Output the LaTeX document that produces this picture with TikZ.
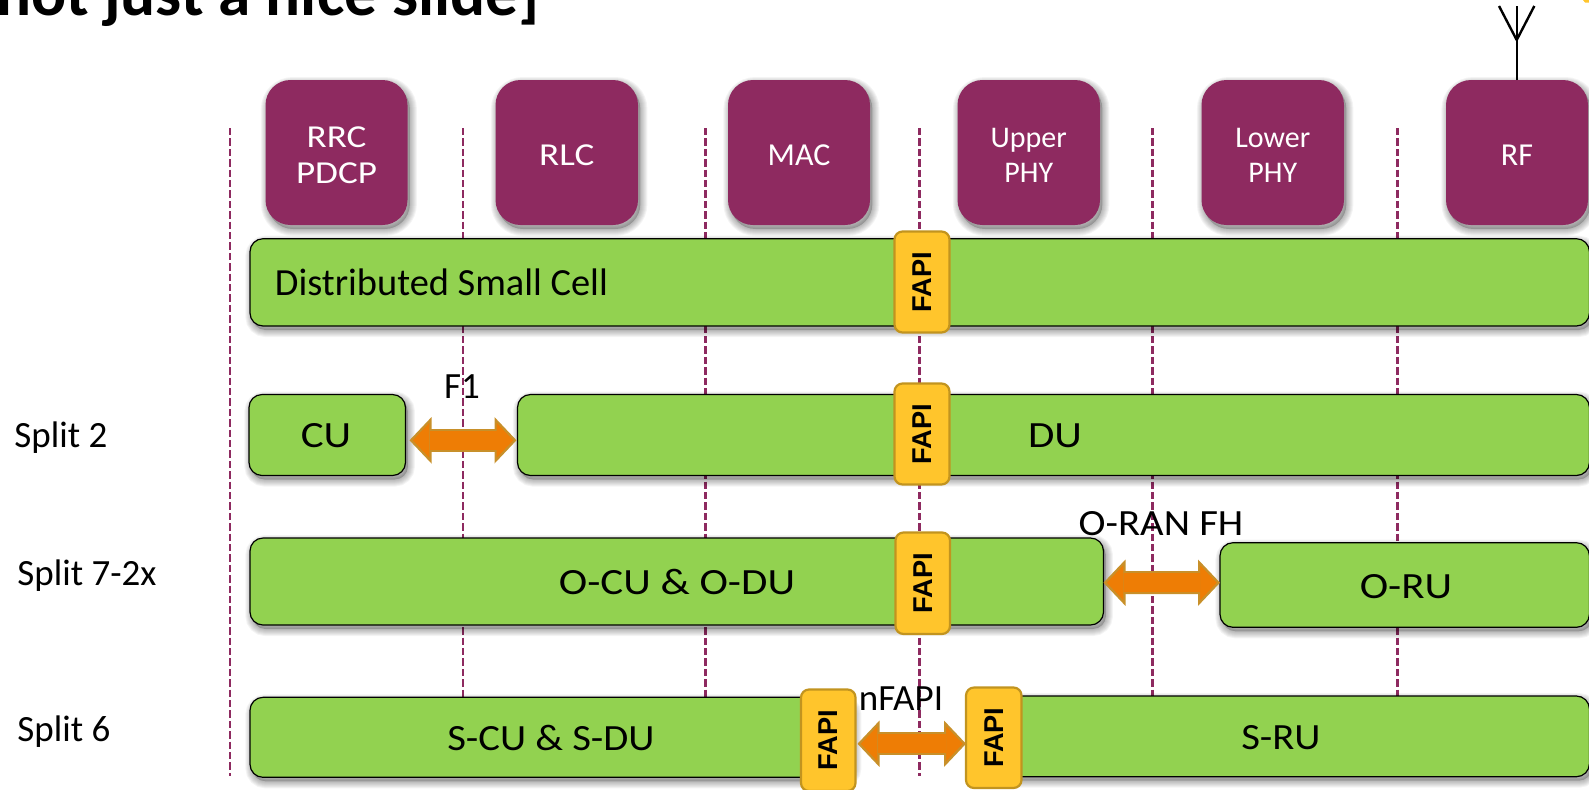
\documentclass[tikz,border=0pt]{standalone}
\usepackage{fontspec}
\setmainfont{Carlito}
\newfontfamily\widefont{Carlito}[FakeStretch=1.16]
\newfontfamily\midfont{Carlito}[FakeStretch=1.1]
\newfontfamily\fapifont{Liberation Sans}
\usetikzlibrary{arrows.meta,calc}
\definecolor{plum}{HTML}{8E2A60}
\definecolor{leaf}{HTML}{92D250}
\definecolor{amber}{HTML}{FFC52C}
\definecolor{amberedge}{HTML}{C2941F}
\definecolor{flame}{HTML}{EE7D05}
\definecolor{flameedge}{HTML}{C8902A}
\tikzset{
  softlayer/.style={preaction={draw=black,draw opacity=.045,line width=#1,transform canvas={xshift=1.2pt,yshift=-2pt}}},
  softshadow/.style={
    preaction={fill=black,fill opacity=.2,transform canvas={xshift=1.2pt,yshift=-2pt}},
    softlayer=7pt,softlayer=6pt,softlayer=5pt,softlayer=4pt,softlayer=3pt,softlayer=2pt,softlayer=1pt},
  pxbox/.style={inner sep=0pt,outer sep=0pt,align=center},
  layerbox/.style={pxbox,softshadow,fill=plum,rounded corners=12.5pt},
  layertext/.style={inner sep=0pt,align=center,text=white,font=\fontsize{16}{18}\selectfont},
  layerwide/.style={inner sep=0pt,align=center,text=white,font=\widefont\fontsize{16}{18}\selectfont},
  layersmall/.style={inner sep=0pt,align=center,text=white,font=\fontsize{15}{17.2}\selectfont},
  barbox/.style={pxbox,softshadow,fill=leaf,draw=black,line width=.6pt,rounded corners=6.5pt},
  fapibox/.style={pxbox,fill=amber,draw=amberedge,line width=1.1pt,rounded corners=4pt},
  fapitext/.style={inner sep=0pt,rotate=90,font=\fapifont\bfseries\fontsize{13.6}{15}\selectfont},
  label/.style={inner sep=0pt,text=black,font=\fontsize{18.5}{22}\selectfont},
  labelwide/.style={inner sep=0pt,text=black,font=\widefont\fontsize{18.5}{22}\selectfont},
  labelmid/.style={inner sep=0pt,text=black,font=\midfont\fontsize{18.5}{22}\selectfont},
  boundary/.style={draw=plum,line width=1.25pt,dash pattern=on 3.7pt off 1.5pt},
  blockarrow/.style={draw=flameedge,line width=11.5pt,
    {Triangle[length=11pt,width=23pt,fill=flame,line width=1.1pt]}-{Triangle[length=11pt,width=23pt,fill=flame,line width=1.1pt]},
    postaction={draw=flame,-,line width=9.5pt,shorten <=10pt,shorten >=10pt}},
  mast/.style={draw=black,line width=1.2pt}
}
\newcommand{\pbox}[7]{%
  \pgfmathsetmacro\bw{(#5-#3)*.5}\pgfmathsetmacro\bh{(#6-#4)*.5}%
  \node[#2,minimum width=\bw pt,minimum height=\bh pt] (#1) at ({(#3+#5)/2},{(#4+#6)/2}) {#7};}
\begin{document}
\begin{tikzpicture}[x=.5pt,y=-.5pt]
\useasboundingbox (0,0) rectangle (1589,789);
\clip (0,0) rectangle (1589,789);
% title
\node[anchor=base west,inner sep=0pt,font=\bfseries\fontsize{32.7}{36}\selectfont] (title) at (-4,15) {not just a nice slide]};
% fragment at the corner
\fill[amber] (1583,0) -- (1589,0) -- (1589,2.5) -- (1585,2.5) -- cycle;
% column boundaries
\foreach \n/\x in {a/230,b/462.8,c/705.6,d/919.3,e/1152.3,f/1397.4}{
  \coordinate (top\n) at (\x,128);
  \coordinate (bot\n) at (\x,776);
  \draw[boundary] (top\n) -- (bot\n);
}
% layers
\pbox{rrc}{layerbox}{265.5}{80}{407.5}{225}{}
\pbox{rlc}{layerbox}{495.5}{80}{638}{225}{}
\pbox{mac}{layerbox}{728}{80}{870}{225}{}
\pbox{uphy}{layerbox}{957.5}{80}{1100}{225}{}
\pbox{lphy}{layerbox}{1201.5}{80}{1344}{225}{}
\pbox{rf}{layerbox}{1446}{80}{1588}{225}{}
\node[layerwide] (rrct) at ($(rrc.center)+(0,3)$) {RRC\\PDCP};
\node[layerwide] (rlct) at ($(rlc.center)+(0,3)$) {RLC};
\node[layertext] (mact) at ($(mac.center)+(0,3)$) {MAC};
\node[layersmall] (uphyt) at ($(uphy.center)+(0,3)$) {Upper\\PHY};
\node[layersmall] (lphyt) at ($(lphy.center)+(0,3)$) {Lower\\PHY};
\node[layertext] (rft) at ($(rf.center)+(0,3)$) {RF};
% antenna
\coordinate (feed) at (1516.7,40);
\coordinate (armL) at (1499,6);
\coordinate (armM) at (1516.7,6);
\coordinate (armR) at (1534.3,6);
\draw[mast] (rf.north -| feed) -- (feed);
\draw[mast] (feed) -- (armL);
\draw[mast] (feed) -- (armM);
\draw[mast] (feed) -- (armR);
% bars
\pbox{dsc}{barbox}{250}{238.7}{1589.4}{326}{}
\pbox{cu}{barbox}{249}{394.5}{405.5}{475.5}{}
\pbox{du}{barbox}{517.5}{394.5}{1589.4}{475.5}{}
\pbox{ocu}{barbox}{250}{538}{1103.5}{625}{}
\pbox{oru}{barbox}{1220}{542.7}{1589.4}{627.3}{}
\pbox{scu}{barbox}{250}{697.3}{852}{777.3}{}
\pbox{sru}{barbox}{985}{696}{1589.4}{776.7}{}
% bar labels
\node[label,anchor=west,font=\fontsize{19.2}{22}\selectfont] (dsclabel) at (274.5,282.5) {Distributed Small Cell};
\node[labelwide] (culabel) at (326,436) {CU};
\node[labelwide] (dulabel) at (1055,436) {DU};
\node[labelwide] (oculabel) at (677,581.5) {O-CU \& O-DU};
\node[labelwide] (orulabel) at (1406,586.5) {O-RU};
\node[labelmid] (sculabel) at (551,737.5) {S-CU \& S-DU};
\node[labelmid] (srulabel) at (1281,738) {S-RU};
% split labels
\node[label,anchor=west] (s2) at (14,438) {Split 2};
\node[label,anchor=west] (s72) at (17,576) {Split 7-2x};
\node[label,anchor=west] (s6) at (17,732) {Split 6};
% FAPI tabs
\pbox{f1}{fapibox}{894.5}{231.5}{949.5}{332.5}{}
\pbox{f2}{fapibox}{894.5}{383.5}{949.5}{484.5}{}
\pbox{f3}{fapibox}{895.5}{532.5}{950}{634}{}
\pbox{f4}{fapibox}{801}{689.5}{855.5}{791}{}
\pbox{f5}{fapibox}{966}{687.5}{1021.5}{788}{}
\foreach \n in {f1,f2,f3,f4,f5}{
  \node[fapitext] (\n t) at (\n.center) {FAPI};
}
% interfaces
\node[label] (f1label) at (462,387) {F1};
\node[labelmid] (oranlabel) at (1161,524) {O-RAN FH};
\node[label] (nfapilabel) at (901,699) {nFAPI};
\draw[blockarrow] ($(cu.east)+(4,5.3)$) -- ($(du.west)+(-1,5.3)$);
\draw[blockarrow] ($(ocu.east)+(0,1.2)$) -- ($(oru.west)+(0,-2.3)$);
\draw[blockarrow] ($(f4.east)+(2,3.5)$) -- ($(f5.west)+(0,6)$);
\end{tikzpicture}
\end{document}
